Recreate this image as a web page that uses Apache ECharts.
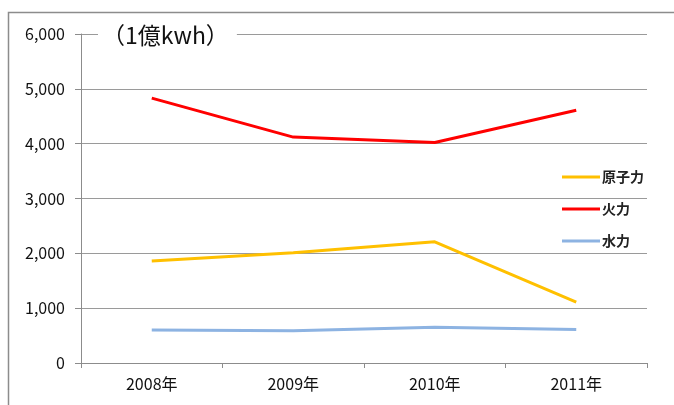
<!DOCTYPE html>
<html>
<head>
<meta charset="utf-8">
<script src="https://cdn.jsdelivr.net/npm/echarts@6/dist/echarts.min.js"></script>
<style>
  html, body { margin: 0; padding: 0; background: #fff; }
  #chart { width: 674px; height: 405px; }
</style>
</head>
<body>
<div id="chart"></div>
<script>
// Annual generation by source, unit: 100 million kWh
const years = ['2008年', '2009年', '2010年', '2011年'];
const nuclear = [1860, 2010, 2210, 1110];   // 原子力
const thermal = [4830, 4120, 4020, 4610];   // 火力
const hydro = [600, 590, 650, 610];         // 水力
const yTicks = [0, 1000, 2000, 3000, 4000, 5000, 6000];

const font = '"Noto Sans CJK JP", "Noto Sans", sans-serif';
const chart = echarts.init(document.getElementById('chart'));

function lineSeries(name, data, color) {
  return {
    name: name,
    type: 'line',
    data: data,
    symbol: 'none',
    lineStyle: { color: color, width: 3 },
    itemStyle: { color: color },
    z: 3
  };
}

chart.setOption({
  backgroundColor: '#fff',
  animation: false,
  grid: { left: 81, right: 27, top: 34, bottom: 42 },
  graphic: [
    {
      type: 'polyline',
      shape: { points: [[8.5, 405], [8.5, 12.5], [674, 12.5]] },
      style: { stroke: '#8c8c8c', lineWidth: 1.5, fill: null },
      z: 10
    }
  ],
  title: {
    text: '（1億kwh）',
    left: 98,
    top: 22,
    backgroundColor: '#fff',
    padding: [2, 8, 2, 4],
    textStyle: { fontFamily: font, fontSize: 23, fontWeight: 'normal', color: '#111' }
  },
  legend: {
    orient: 'vertical',
    right: 25,
    top: 165,
    itemGap: 18,
    itemWidth: 38,
    itemHeight: 3,
    icon: 'rect',
    textStyle: { fontFamily: font, fontSize: 14, fontWeight: 'bold', color: '#222', padding: [0, 0, 0, -3] },
    data: ['原子力', '火力', '水力']
  },
  xAxis: {
    type: 'category',
    data: years,
    boundaryGap: true,
    axisLine: { lineStyle: { color: '#8c8c8c', width: 1 } },
    axisTick: { show: true, length: 5, inside: false, lineStyle: { color: '#8c8c8c' } },
    axisLabel: { fontFamily: font, fontSize: 16, color: '#111', margin: 13 }
  },
  yAxis: {
    type: 'value',
    min: yTicks[0],
    max: yTicks[yTicks.length - 1],
    interval: 1000,
    axisLine: { show: true, lineStyle: { color: '#8c8c8c', width: 1 } },
    axisTick: { show: true, length: 6, lineStyle: { color: '#8c8c8c' } },
    splitLine: { show: true, lineStyle: { color: '#9a9a9a', width: 1 } },
    axisLabel: {
      fontFamily: font, fontSize: 16, color: '#111', margin: 16,
      formatter: v => v.toLocaleString('en-US')
    }
  },
  series: [
    lineSeries('原子力', nuclear, '#FFC000'),
    lineSeries('火力', thermal, '#FF0000'),
    lineSeries('水力', hydro, '#8DB3E2')
  ]
});
</script>
</body>
</html>
